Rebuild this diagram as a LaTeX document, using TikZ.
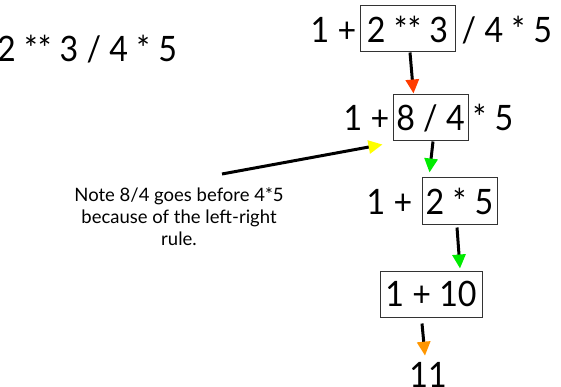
\documentclass[tikz,border=0pt]{standalone}
\usepackage{fontspec}
\setmainfont{Lato}
\newfontfamily\eqfont[FakeStretch=0.92]{Lato}
\usetikzlibrary{arrows.meta, positioning}
\definecolor{hotred}{RGB}{255,60,0}
\definecolor{brightgreen}{RGB}{0,235,0}
\definecolor{brightyellow}{RGB}{255,255,0}
\definecolor{tiporange}{RGB}{255,150,0}
\tikzset{
  eq/.style={font=\eqfont\fontsize{35}{42}\selectfont, inner sep=1pt},
  evalbox/.style={eq, rectangle, draw=black!80, line width=1pt, minimum height=46pt, inner sep=0pt},
  note/.style={align=center, font=\fontsize{18.5}{22}\selectfont, inner sep=0pt},
  arrow/.style={line width=3pt, -{Triangle[length=14pt, width=13pt, color=#1]}},
  arrow/.default=black,
}
\begin{document}
\begin{tikzpicture}[x=1pt, y=-1pt]
\useasboundingbox (0,0) rectangle (561,387);
\node[eq, anchor=base west] (expr) at (-4,62) {2 ** 3 / 4 * 5};

% step by step evaluation
\node[evalbox, minimum width=95pt] (b1) at (407.5,29) {2 ** 3};
\node[eq, base left=2pt of b1] (l1) {1 +};
\node[eq, base right=5pt of b1] (r1) {/ 4 * 5};
\node[evalbox, minimum width=75pt] (b2) at (430.5,118) {8 / 4};
\node[eq, base left=2pt of b2] (l2) {1 +};
\node[eq, base right=3pt of b2] (r2) {* 5};
\node[evalbox, minimum width=75pt] (b3) at (459.5,201) {2 * 5};
\node[eq, base left=8pt of b3] (l3) {1 +};
\node[evalbox, minimum width=102pt] (b4) at (431,294) {1 + 10};
\node[eq, anchor=base] (res) at (428,387) {11};

\node[note, anchor=north] (note) at (179,187) {Note 8/4 goes before 4*5\\because of the left-right\\rule.};

\draw[arrow=hotred] ([xshift=2.5pt]b1.south) -- ([xshift=21pt, yshift=1pt]b2.north west);
\draw[arrow=brightgreen] ([xshift=2.5pt]b2.south) -- ([xshift=8pt, yshift=5pt]b3.north west);
\draw[arrow=brightgreen] ([xshift=-2.5pt, yshift=-3pt]b3.south) -- ([xshift=29pt, yshift=2pt]b4.north);
\draw[arrow=tiporange] ([xshift=-9pt, yshift=-6pt]b4.south) -- ([xshift=-3pt, yshift=5pt]res.north);
\draw[arrow=brightyellow] ([xshift=43pt, yshift=13pt]note.north) -- ([xshift=-10pt, yshift=-3pt]b2.south west);
\end{tikzpicture}
\end{document}
